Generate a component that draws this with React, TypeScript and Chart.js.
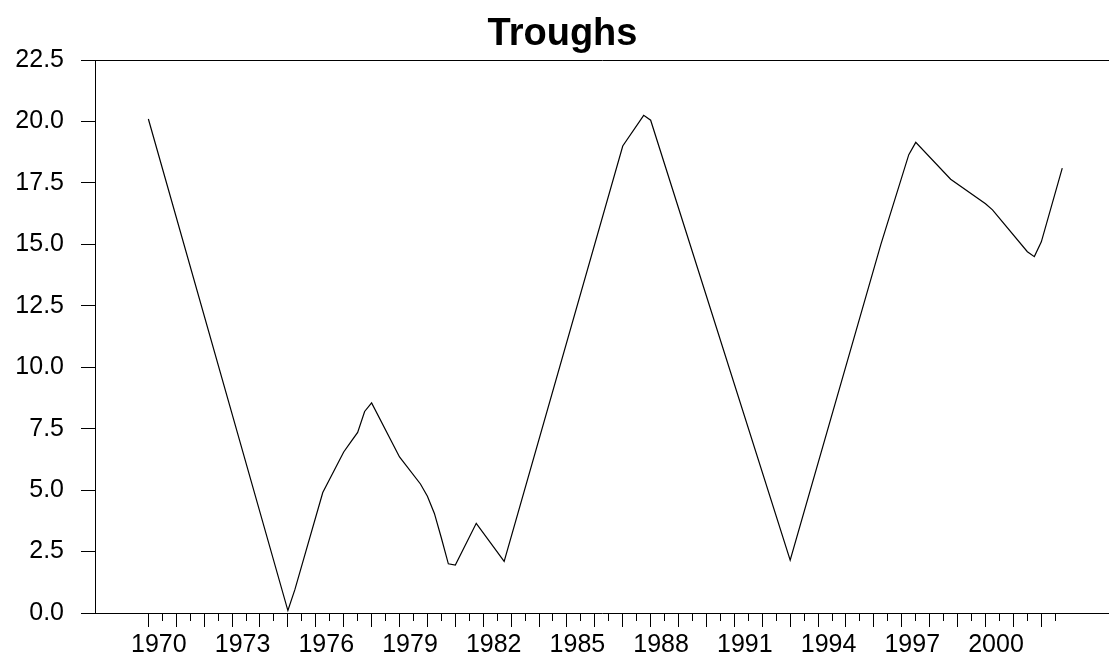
import React, { useEffect, useRef } from "react";
import { Chart, registerables } from "chart.js";

Chart.register(...registerables);

const chartTitle = "Troughs";
const firstYear = 1970;

// Quarterly periods where the series changes direction (the line runs straight between them)
const periods = [
  "1970Q1", "1975Q1", "1975Q2", "1976Q2", "1977Q1", "1977Q2", "1977Q3", "1977Q4",
  "1978Q1", "1979Q1", "1979Q4", "1980Q1", "1980Q2", "1980Q3", "1980Q4", "1981Q1",
  "1981Q4", "1982Q4", "1987Q1", "1987Q4", "1988Q1", "1993Q1", "1996Q2", "1997Q2",
  "1997Q3", "1998Q4", "2000Q1", "2000Q2", "2001Q3", "2001Q4", "2002Q1", "2002Q4",
];
const troughs = [
  20.1, 0.1, 0.95, 4.9, 6.55, 6.95, 7.35, 8.2,
  8.55, 6.35, 5.25, 4.75, 4.05, 3.05, 2.0, 1.95,
  3.65, 2.1, 19.0, 20.25, 20.05, 2.15, 15.0, 18.65,
  19.15, 17.65, 16.65, 16.4, 14.7, 14.5, 15.1, 18.1,
];

const yTickValues = [0, 2.5, 5, 7.5, 10, 12.5, 15, 17.5, 20, 22.5];
const yearLabels = ["1970", "1973", "1976", "1979", "1982", "1985", "1988", "1991", "1994", "1997", "2000"];
const lastTickPeriod = "2002Q3";

const FONT = "'Liberation Sans', Arial, Helvetica, sans-serif";

function periodIndex(p: string): number {
  const y = parseInt(p.slice(0, 4), 10);
  const q = parseInt(p.slice(5), 10);
  return (y - firstYear) * 4 + (q - 1);
}

export default function App() {
  const ref = useRef<HTMLCanvasElement | null>(null);

  useEffect(() => {
    document.body.style.margin = "0";
    const canvas = ref.current;
    if (!canvas) return;

    const points = periods.map((p, i) => ({ x: periodIndex(p), y: troughs[i] }));
    const xMin = -7.65;
    const xMax = 137.7;
    const lastTick = periodIndex(lastTickPeriod);
    const halfYearTicks: number[] = [];
    for (let v = 0; v <= lastTick; v += 2) halfYearTicks.push(v);
    const labelPositions = yearLabels.map((y) => periodIndex(y + "Q1") + 1.5);

    const chart = new Chart(canvas, {
      type: "line",
      data: {
        datasets: [
          {
            label: chartTitle,
            data: points,
            borderColor: "#000",
            borderWidth: 1.2,
            pointRadius: 0,
            fill: false,
            tension: 0,
          },
        ],
      },
      options: {
        animation: false,
        responsive: true,
        maintainAspectRatio: false,
        layout: { padding: { left: 0, right: -16, top: 0, bottom: 0 } },
        plugins: {
          legend: { display: false },
          tooltip: { enabled: false },
          title: {
            display: true,
            text: chartTitle,
            color: "#000",
            font: { family: FONT, size: 38, weight: "bold" },
            padding: { top: 12, bottom: 2.4 },
          },
        },
        scales: {
          x: {
            type: "linear",
            position: "bottom",
            min: xMin,
            max: xMax,
            afterBuildTicks: (scale: any) => {
              scale.ticks = halfYearTicks.map((v) => ({ value: v }));
            },
            afterFit: (scale: any) => {
              scale.height = 14;
            },
            ticks: { display: false },
            grid: {
              display: true,
              drawOnChartArea: false,
              drawTicks: true,
              tickLength: 14,
              tickColor: "#000",
              tickWidth: 1,
              tickBorderDash: (ctx: any) => (ctx.tick && ctx.tick.value % 4 === 0 ? [] : [7, 50]),
            },
            border: { display: true, color: "#000", width: 1 },
          },
          xl: {
            type: "linear",
            position: "bottom",
            min: xMin,
            max: xMax,
            afterBuildTicks: (scale: any) => {
              scale.ticks = labelPositions.map((v) => ({ value: v }));
            },
            afterFit: (scale: any) => {
              scale.height = 32;
            },
            ticks: {
              autoSkip: false,
              maxRotation: 0,
              padding: 3,
              color: "#000",
              font: { family: FONT, size: 25 },
              callback: (_v: any, i: number) => yearLabels[i],
            },
            grid: { display: false, drawTicks: false },
            border: { display: false },
          },
          y: {
            type: "linear",
            min: 0,
            max: 22.5,
            afterBuildTicks: (scale: any) => {
              scale.ticks = yTickValues.map((v) => ({ value: v }));
            },
            afterFit: (scale: any) => {
              scale.width = 95;
            },
            ticks: {
              padding: 17,
              color: "#000",
              font: { family: FONT, size: 25 },
              callback: (v: any) => Number(v).toFixed(1),
            },
            grid: {
              display: true,
              drawOnChartArea: true,
              color: (ctx: any) => (ctx.tick && ctx.tick.value === 22.5 ? "#000" : "rgba(0,0,0,0)"),
              lineWidth: 1,
              drawTicks: true,
              tickLength: 14,
              tickColor: "#000",
              tickWidth: 1,
            },
            border: { display: true, color: "#000", width: 1 },
          },
        },
      },
    });

    return () => chart.destroy();
  }, []);

  return (
    <div style={{ position: "absolute", left: 0, top: 0, width: 1109, height: 659, background: "#fff" }}>
      <canvas ref={ref} />
    </div>
  );
}
